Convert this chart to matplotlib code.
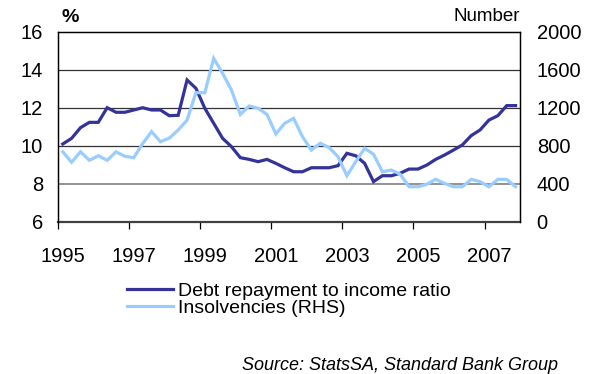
import numpy as np
import matplotlib
matplotlib.use("Agg")
import matplotlib.pyplot as plt

plt.rcParams['font.family'] = ['Liberation Sans', 'DejaVu Sans']

# quarterly data, 1995Q1 - 2007Q4
debt_ratio = [10.09, 10.39, 10.95, 11.23, 11.23, 12.0, 11.76, 11.76,
              11.88, 12.0, 11.88, 11.88, 11.58, 11.6, 13.46, 13.02,
              11.97, 11.18, 10.39, 9.95, 9.37, 9.28, 9.16, 9.28,
              9.07, 8.84, 8.63, 8.63, 8.84, 8.84, 8.84, 8.95,
              9.6, 9.47, 9.07, 8.11, 8.42, 8.42, 8.55, 8.77,
              8.77, 8.98, 9.28, 9.51, 9.77, 10.04, 10.53, 10.83,
              11.35, 11.58, 12.11, 12.11]
insolvencies = [736, 626, 736, 646, 694, 646, 736, 688,
                674, 822, 948, 842, 880, 965, 1070, 1358,
                1358, 1720, 1562, 1386, 1130, 1218, 1194, 1130,
                924, 1036, 1088, 894, 754, 826, 780, 684,
                484, 632, 772, 710, 526, 544, 500, 368,
                368, 394, 446, 404, 368, 368, 446, 422,
                368, 446, 446, 368]
year_labels = ['1995', '1997', '1999', '2001', '2003', '2005', '2007']

dark = '#333399'
light = '#99CCFF'

x = np.arange(len(debt_ratio))

fig = plt.figure(figsize=(6, 3.74), dpi=100)
ax = fig.add_axes([0.0972, 0.4072, 0.7695, 0.508])
ax2 = ax.twinx()

ax.plot(x, debt_ratio, color=dark, lw=2.3, solid_joinstyle='miter',
        label='Debt repayment to income ratio')
ax2.plot(x, insolvencies, color=light, lw=2.3, solid_joinstyle='miter',
         label='Insolvencies (RHS)')

ax.set_xlim(-0.5, len(x) - 0.5)
ax.set_ylim(6, 16)
ax2.set_ylim(0, 2000)
ax.set_yticks(np.arange(6, 17, 2))
ax2.set_yticks(np.arange(0, 2001, 400))

# gridlines (8 is drawn lighter like the original)
for v in [8, 10, 12, 14]:
    c = '#8a8a8a' if v == 8 else '#333333'
    w = 1.3 if v == 8 else 0.9
    ax.axhline(v, color=c, lw=w, zorder=0.5)

# x axis: tick marks between years, labels on the first quarter
ax.set_xticks(np.arange(-0.5, len(x), 8))
ax.set_xticklabels([])
ax.set_xticks(np.arange(0, len(x), 8), minor=True)
ax.set_xticklabels(year_labels, minor=True)
ax.tick_params(axis='x', which='major', direction='out', length=5, width=0.9, color='black')
ax.tick_params(axis='x', which='minor', length=0, pad=18, labelsize=14.5)
ax.tick_params(axis='y', length=0, pad=11, labelsize=14.5)
ax2.tick_params(axis='y', length=0, pad=12, labelsize=14.5)

for a in (ax, ax2):
    for s in a.spines.values():
        s.set_color('black')
        s.set_linewidth(0.9)
ax.spines['bottom'].set_color('#404040')
ax.spines['bottom'].set_linewidth(1.6)
ax2.spines['bottom'].set_visible(False)

fig.text(0.117, 0.952, '%', fontsize=14, fontweight='bold', ha='center', va='center')
fig.text(0.867, 0.955, 'Number', fontsize=13.5, ha='right', va='center')

h1, l1 = ax.get_legend_handles_labels()
h2, l2 = ax2.get_legend_handles_labels()
fig.legend(h1 + h2, l1 + l2, loc='upper left', bbox_to_anchor=(0.211, 0.246),
           frameon=False, fontsize=14, handlelength=2.4, handletextpad=0.25,
           labelspacing=0.0, borderpad=0, borderaxespad=0)

fig.text(0.93, 0.024, 'Source: StatsSA, Standard Bank Group', fontsize=13,
         style='italic', ha='right', va='center')

fig.savefig('out.png', dpi=100)
